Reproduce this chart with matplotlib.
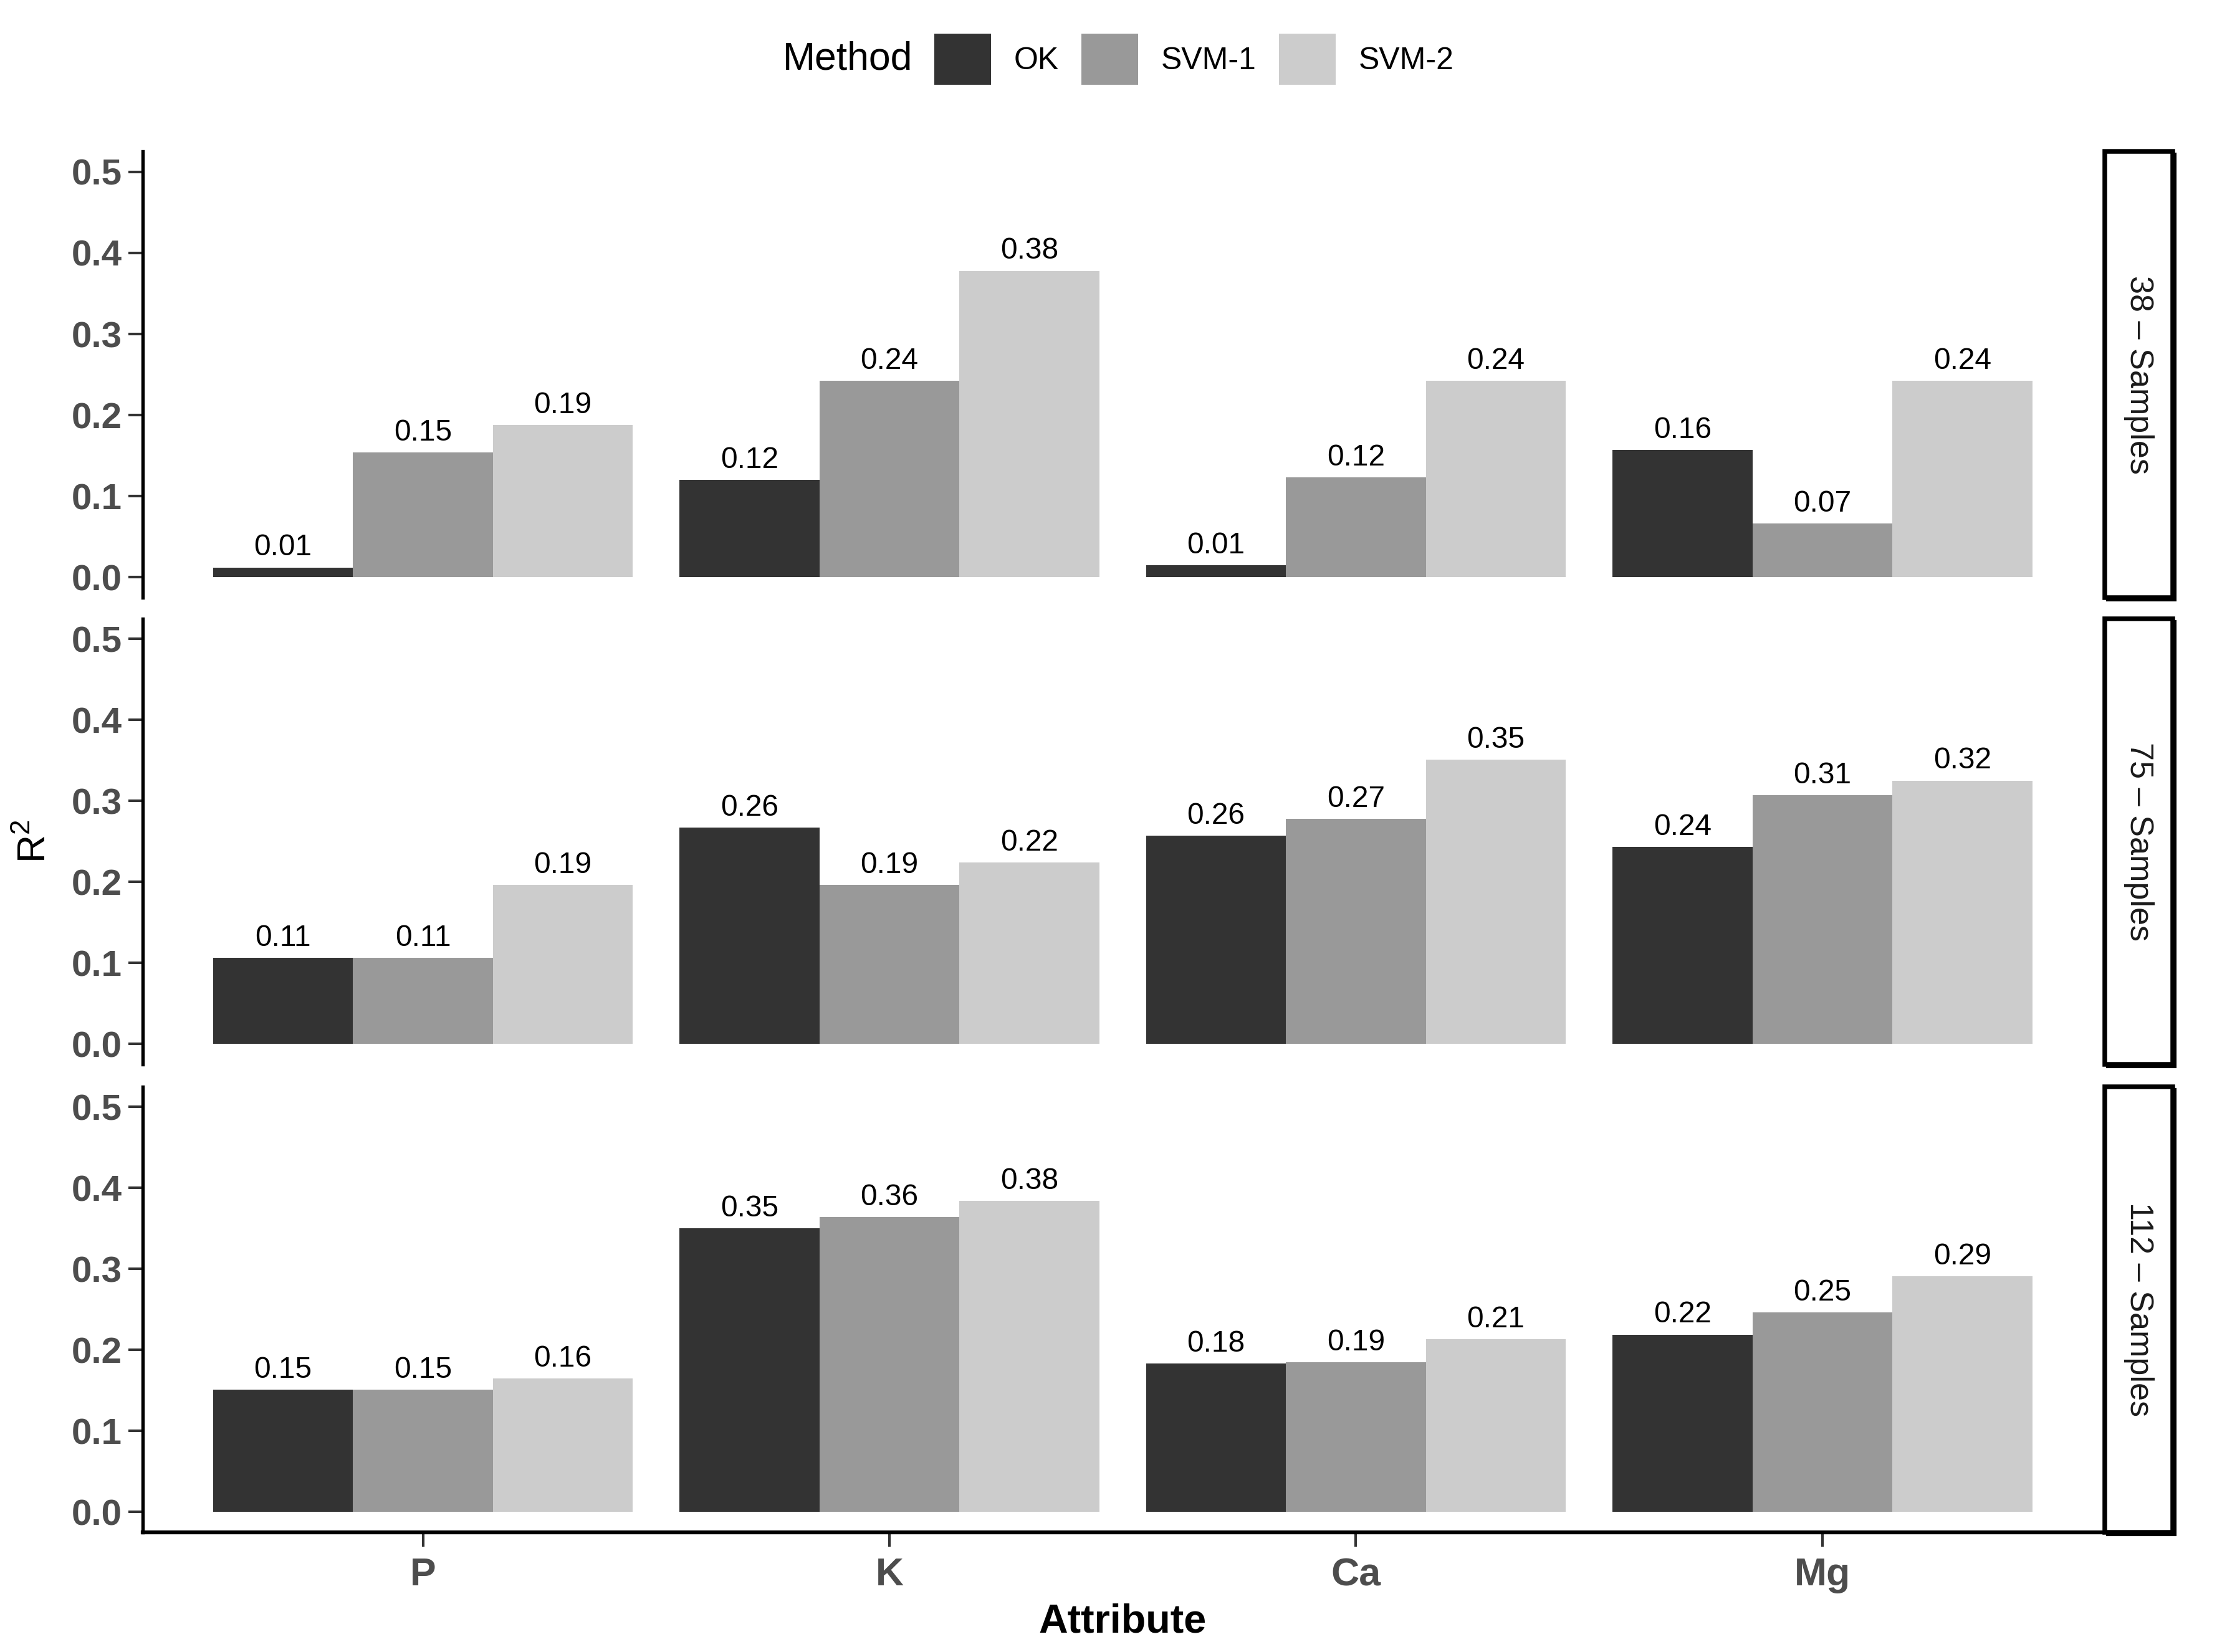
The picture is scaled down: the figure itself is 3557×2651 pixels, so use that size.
import matplotlib
matplotlib.use("Agg")
import matplotlib.pyplot as plt
from matplotlib.patches import Rectangle, Patch
import numpy as np

plt.rcParams['font.family'] = ['Liberation Sans', 'DejaVu Sans']
plt.rcParams['mathtext.fontset'] = 'custom'
plt.rcParams['mathtext.rm'] = 'Liberation Sans'
plt.rcParams['mathtext.it'] = 'Liberation Sans'

# ---------------- data ----------------
attributes = ['P', 'K', 'Ca', 'Mg']
methods = ['OK', 'SVM-1', 'SVM-2']
panels = ['38 – Samples', '75 – Samples', '112 – Samples']
method_colors = ['#333333', '#999999', '#CCCCCC']

# bar heights (R²) per panel, per method, per attribute
r2_38_ok = [0.012, 0.120, 0.015, 0.157]
r2_38_svm1 = [0.154, 0.242, 0.123, 0.066]
r2_38_svm2 = [0.188, 0.378, 0.242, 0.242]
r2_75_ok = [0.106, 0.267, 0.257, 0.243]
r2_75_svm1 = [0.106, 0.196, 0.278, 0.307]
r2_75_svm2 = [0.196, 0.224, 0.351, 0.325]
r2_112_ok = [0.151, 0.350, 0.183, 0.219]
r2_112_svm1 = [0.151, 0.364, 0.185, 0.246]
r2_112_svm2 = [0.165, 0.384, 0.213, 0.291]

# printed labels above bars
lab_38_ok = ['0.01', '0.12', '0.01', '0.16']
lab_38_svm1 = ['0.15', '0.24', '0.12', '0.07']
lab_38_svm2 = ['0.19', '0.38', '0.24', '0.24']
lab_75_ok = ['0.11', '0.26', '0.26', '0.24']
lab_75_svm1 = ['0.11', '0.19', '0.27', '0.31']
lab_75_svm2 = ['0.19', '0.22', '0.35', '0.32']
lab_112_ok = ['0.15', '0.35', '0.18', '0.22']
lab_112_svm1 = ['0.15', '0.36', '0.19', '0.25']
lab_112_svm2 = ['0.16', '0.38', '0.21', '0.29']

y_ticks = [0.0, 0.1, 0.2, 0.3, 0.4, 0.5]

panel_values = [
    [r2_38_ok, r2_38_svm1, r2_38_svm2],
    [r2_75_ok, r2_75_svm1, r2_75_svm2],
    [r2_112_ok, r2_112_svm1, r2_112_svm2],
]
panel_labels = [
    [lab_38_ok, lab_38_svm1, lab_38_svm2],
    [lab_75_ok, lab_75_svm1, lab_75_svm2],
    [lab_112_ok, lab_112_svm1, lab_112_svm2],
]

# ---------------- layout ----------------
W, H, DPI = 3557, 2651, 300
S = 0.9935  # pixel-position correction
fig = plt.figure(figsize=(W / DPI, H / DPI), dpi=DPI)
fig.patch.set_facecolor('white')

left_px, right_px = 231 * S, 3395 * S
panel_px = [(245 * S, 965 * S), (999 * S, 1719 * S), (1755 * S, 2475 * S)]
strip_x0, strip_x1 = 3399 * S, 3509 * S

bar_w = 0.3
offsets = [-0.3, 0.0, 0.3]
x = np.arange(1, len(attributes) + 1)

for i, (top, bot) in enumerate(panel_px):
    ax = fig.add_axes([left_px / W, 1 - bot / H, (right_px - left_px) / W, (bot - top) / H])
    for m, (vals, labs) in enumerate(zip(panel_values[i], panel_labels[i])):
        ax.bar(x + offsets[m], vals, bar_w, color=method_colors[m], linewidth=0)
        for xi, v, lab in zip(x + offsets[m], vals, labs):
            ax.annotate(lab, (xi, v), xytext=(0, 2.2), textcoords='offset points',
                        ha='center', va='bottom', fontsize=11.5, color='black')
    ax.set_xlim(0.4, 4.6)
    ax.set_ylim(-0.025, 0.525)
    ax.set_yticks(y_ticks)
    ax.set_yticklabels([f'{t:.1f}' for t in y_ticks], fontweight='bold')
    for s in ['top', 'right']:
        ax.spines[s].set_visible(False)
    ax.spines['left'].set_color('black')
    ax.spines['left'].set_linewidth(1.3)
    ax.tick_params(axis='y', length=5.5, width=1.0, color='#333333',
                   labelsize=14, labelcolor='#4D4D4D', pad=2.5)
    ax.set_xticks(x)
    if i < 2:
        ax.spines['bottom'].set_visible(False)
        ax.tick_params(axis='x', bottom=False, labelbottom=False)
    else:
        ax.spines['bottom'].set_color('black')
        ax.spines['bottom'].set_linewidth(1.5)
        ax.set_xticklabels(attributes, fontweight='bold')
        ax.tick_params(axis='x', length=5.5, width=1.0, color='#333333',
                       labelsize=15, labelcolor='#4D4D4D', pad=4)

    # facet strip on the right
    sh = 4
    fig.add_artist(Rectangle(((strip_x0 + sh) / W, 1 - (bot + sh) / H),
                             (strip_x1 - strip_x0) / W, (bot - top) / H,
                             transform=fig.transFigure, facecolor='black',
                             edgecolor='black', linewidth=1.0))
    fig.add_artist(Rectangle((strip_x0 / W, 1 - bot / H),
                             (strip_x1 - strip_x0) / W, (bot - top) / H,
                             transform=fig.transFigure, facecolor='white',
                             edgecolor='black', linewidth=1.8))
    fig.text((strip_x0 + strip_x1) / 2 / W, 1 - (top + bot) / 2 / H, panels[i],
             rotation=-90, ha='center', va='center', fontsize=12.5, color='#1A1A1A')

# axis titles
fig.text(57 * S / W, 1 - 1359 * S / H, r'R$^2$', rotation=90, ha='center', va='center',
         fontsize=15, color='black')
fig.text((left_px + right_px) / 2 / W, 1 - 2620 * S / H, 'Attribute', ha='center',
         va='center', fontsize=15.5, fontweight='bold', color='black')

# legend
leg_y = 1 - 96 * S / H
fig.text(1264 * S / W, leg_y, 'Method', ha='left', va='center', fontsize=15, color='black')
handles = [Patch(facecolor=c, edgecolor='none') for c in method_colors]
fig.legend(handles, methods, loc='center left', bbox_to_anchor=(1509 * S / W, leg_y),
           ncol=3, frameon=False, fontsize=12, handlelength=1.82, handleheight=2.15,
           handletextpad=0.73, columnspacing=0.73, borderpad=0, borderaxespad=0)

fig.savefig('out.png', dpi=DPI, facecolor='white')
